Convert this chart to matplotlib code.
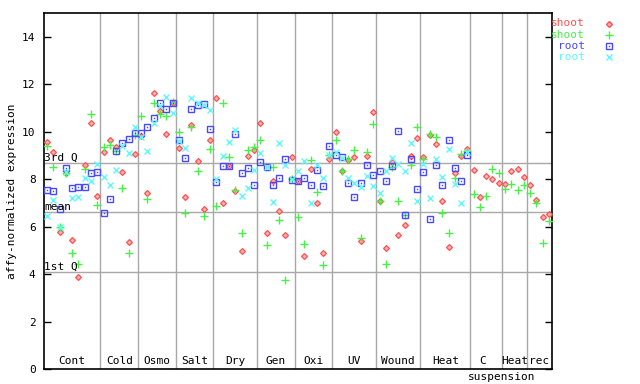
import matplotlib
matplotlib.use("Agg")
import matplotlib.pyplot as plt
import numpy as np
from matplotlib.lines import Line2D

# expression values per sample (x = sample index 0..80)
nan = np.nan
shoot_1 = [9.57, 9.16, 5.79, 8.25, 5.45, 3.88, 8.61, 10.37, 7.31,
           9.15, 9.63, 9.36, 8.31, 5.37, 9.06,
           9.80, 7.42, 11.64, 10.88, 9.91, 11.20,
           9.32, 7.25, 10.28, 8.77, 6.75, 9.66,
           11.43, 7.00, 8.57, 7.49, 4.99, 8.99, 9.24,
           10.37, 5.73, 7.94, 6.66, 5.65, 8.95,
           7.93, 4.77, 8.43, 7.00, 4.89, 8.85,
           9.99, 8.35, 8.81, 8.94, 5.40, 8.98, 10.84,
           7.08, 5.10, 8.73, 5.65, 6.07, 8.98, 9.74,
           8.94, 9.87, 9.49, 7.08, 5.14, 8.27, 8.98, 9.25,
           8.39, 7.25, 8.15, 8.01, 7.84,
           7.80, 8.35, 8.43, 8.10,
           7.76, 7.12, 6.41, 6.54]
shoot_2 = [9.40, 8.52, 5.99, 8.24, 4.89, 4.42, 8.43, 10.75, 6.89,
           9.36, 9.45, 9.20, 7.63, 4.89, 9.85,
           10.66, 7.17, 11.22, 10.75, 10.67, 11.25,
           10.00, 6.59, 10.21, 8.35, 6.45, 9.28,
           6.87, 11.22, 8.95, 7.55, 5.73, 9.24, 9.36,
           9.66, 5.23, 8.52, 6.28, 3.75, 8.00,
           6.41, 5.27, 8.81, 7.47, 4.38, 9.02,
           9.66, 8.35, 8.85, 9.24, 5.54, 9.15, 10.33,
           7.08, 4.43, 8.52, 7.08, 6.50, 8.60, 10.20,
           8.85, 9.91, 9.78, 6.59, 5.74, 8.05, 9.06, 9.20,
           7.38, 6.83, 7.29, 8.43, 8.27,
           7.59, 7.80, 7.55, 7.76,
           7.42, 7.00, 5.31, 6.24]
root_1 = [7.55, 7.51, 6.75, 8.48, 7.64, 7.67, 7.67, 8.26, 8.31,
          6.59, 7.17, 9.19, 9.53, 9.67, 9.95,
          9.95, 10.21, 10.56, 11.22, 10.96, 11.22,
          9.66, 8.90, 10.96, 11.14, 11.18, 10.13,
          7.88, 8.57, 8.57, 9.91, 8.27, 8.48, 7.76,
          8.73, 8.52, 7.76, 8.05, 8.85, 7.97,
          7.93, 8.05, 7.76, 8.39, 7.72, 9.40,
          9.02, 8.95, 7.84, 7.25, 7.84, 8.60, 8.18,
          8.35, 7.93, 8.56, 10.04, 6.50, 8.85, 7.59,
          8.31, 6.33, 8.60, 7.76, 9.66, 8.48, 7.93, 9.01] + [nan] * 13
root_2 = [6.46, 7.12, 5.99, 8.30, 7.22, 7.25, 8.05, 7.91, 8.62,
          8.10, 7.77, 8.40, 9.38, 9.11, 10.18,
          9.77, 9.19, 10.37, 11.10, 11.47, 10.80,
          9.60, 9.32, 11.43, 11.20, 11.14, 10.92,
          8.01, 8.99, 9.57, 10.09, 7.30, 7.63, 8.39,
          9.11, 8.50, 7.04, 9.53, 8.60, 8.00,
          8.35, 8.77, 7.00, 8.60, 8.05, 9.02,
          9.15, 8.90, 8.05, 7.84, 7.67, 8.14, 7.72,
          7.42, 8.35, 8.90, 8.65, 8.35, 9.53, 7.08,
          8.65, 7.20, 8.85, 8.10, 9.28, 7.80, 7.00, 9.15] + [nan] * 13

groups = ["Cont", "Cold", "Osmo", "Salt", "Dry", "Gen", "Oxi", "UV",
          "Wound", "Heat", "C", "Heat", "rec"]
group_sizes = [9, 6, 6, 6, 7, 6, 6, 7, 7, 8, 5, 4, 4]

q3_value = 8.69
mean_value = 6.62
q1_value = 4.085

RED, GREEN, BLUE, CYAN = "#ff5050", "#48f048", "#4848ff", "#60f8f8"
PINK = "#ffb4b4"
GRID = "#a8a8a8"
MONO = "DejaVu Sans Mono"

x = np.arange(len(shoot_1))
fig = plt.figure(figsize=(6.4, 3.84), dpi=100)
ax = fig.add_axes([44 / 640, 15 / 384, 508 / 640, 356 / 384])

# group separators and quartile lines
edges = np.cumsum(group_sizes)
for e in edges[:-1]:
    ax.axvline(e - 0.5, color=GRID, lw=1, zorder=1)
for val in (q3_value, mean_value, q1_value):
    ax.axhline(val, color=GRID, lw=1, zorder=1)

ax.plot(x, shoot_1, ls="none", marker="D", ms=3.0, mfc=PINK, mec=RED, mew=0.9, zorder=3)
ax.plot(x, shoot_2, ls="none", marker="+", ms=6, mec=GREEN, mew=1.0, zorder=3)
ax.plot(x, root_1, ls="none", marker="s", ms=4.8, mfc="none", mec=BLUE, mew=1.0, zorder=3)
ax.plot(x, root_1, ls="none", marker="s", ms=1, mfc=BLUE, mec=BLUE, mew=0, zorder=3)
ax.plot(x, root_2, ls="none", marker="x", ms=4.8, mec=CYAN, mew=1.0, zorder=3)

ax.set_xlim(-0.5, len(shoot_1) - 0.5)
ax.set_ylim(0, 15)
ax.set_xticks([])
ax.set_yticks(np.arange(0, 15, 2))
ax.tick_params(axis="y", direction="in", length=5, width=1, labelsize=8,
               right=True, pad=6)
for lbl in ax.get_yticklabels():
    lbl.set_family(MONO)
for sp in ax.spines.values():
    sp.set_linewidth(1.2)

ax.set_ylabel("affy-normalized expression", family=MONO, fontsize=8, labelpad=4)

# quartile labels
ax.text(-0.45, q3_value, "3rd Q", family=MONO, fontsize=8, va="bottom", ha="left")
ax.text(-0.45, mean_value, "mean", family=MONO, fontsize=8, va="bottom", ha="left")
ax.text(-0.45, q1_value, "1st Q", family=MONO, fontsize=8, va="bottom", ha="left")

# group labels inside the bottom of the plot
starts = np.concatenate([[0], edges[:-1]])
for name, s, e in zip(groups, starts, edges):
    cx = (s + e - 1) / 2
    if name == "C":
        cx -= 0.5
    ax.text(cx, 0.12, name, family=MONO, fontsize=8, ha="center", va="bottom")
ax.text(edges[10] - 0.5, -0.32, "suspension", family=MONO, fontsize=8,
        ha="center", va="center", clip_on=False)

# legend drawn at the right of the plot
legend_items = [("shoot", RED, "D", 3.0, PINK), ("shoot", GREEN, "+", 6, "none"),
                ("root", BLUE, "s", 4.8, "none"), ("root", CYAN, "x", 4.8, "none")]
for k, (lab, col, mk, ms, fc) in enumerate(legend_items):
    ypix = 23.5 + k * 11.1
    yf = 1 - ypix / 384
    fig.text(585 / 640, yf, lab, family=MONO, fontsize=8, color=col,
             ha="right", va="center")
    fig.add_artist(Line2D([609 / 640], [yf], transform=fig.transFigure,
                          ls="none", marker=mk, ms=ms, mec=col,
                          mfc=fc, mew=1.0))
    if mk == "s":
        fig.add_artist(Line2D([609 / 640], [yf], transform=fig.transFigure,
                              ls="none", marker="s", ms=1, mfc=col, mec=col, mew=0))

fig.savefig("out.png", dpi=100)
